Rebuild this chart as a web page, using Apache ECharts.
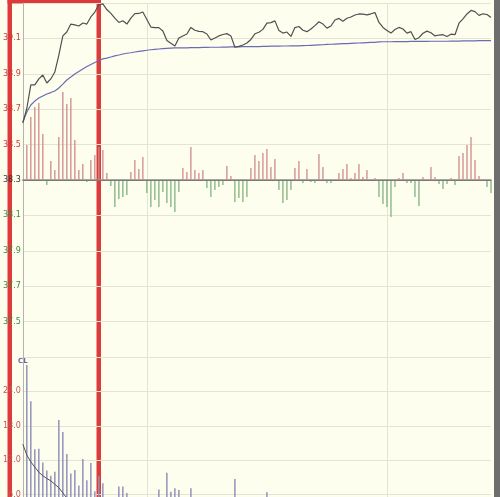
<!DOCTYPE html>
<html>
<head>
<meta charset="utf-8">
<script src="https://cdn.jsdelivr.net/npm/echarts@6/dist/echarts.min.js"></script>
<style>
html,body{margin:0;padding:0;background:#fefeef;}
#wrap{width:500px;height:497px;overflow:hidden;position:relative;}
#c{width:500px;height:530px;}
</style>
</head>
<body>
<div id="wrap"><div id="c"></div></div>
<script>
// ---- data ----
var prevClose = 38.3;
var priceTickLabels = ['37.5','37.7','37.9','38.1','38.3','38.5','38.7','38.9','39.1'];
var volTickLabels = ['6.0','12.0','18.0','24.0'];

var price = [38.622, 38.704, 38.837, 38.837, 38.871, 38.893, 38.848, 38.871, 38.910, 39.006,
 39.114, 39.136, 39.181, 39.176, 39.170, 39.187, 39.181, 39.221, 39.249, 39.290,
 39.295, 39.263, 39.241, 39.215, 39.190, 39.200, 39.181, 39.215, 39.240, 39.241,
 39.249, 39.207, 39.164, 39.161, 39.161, 39.142, 39.088, 39.072, 39.057, 39.102,
 39.114, 39.125, 39.162, 39.146, 39.140, 39.138, 39.125, 39.091, 39.102, 39.114,
 39.122, 39.127, 39.114, 39.050, 39.055, 39.063, 39.074, 39.094, 39.126, 39.135,
 39.151, 39.186, 39.189, 39.199, 39.145, 39.130, 39.136, 39.111, 39.161, 39.167,
 39.146, 39.138, 39.153, 39.172, 39.194, 39.181, 39.158, 39.170, 39.204, 39.213,
 39.197, 39.214, 39.221, 39.232, 39.238, 39.237, 39.233, 39.239, 39.246, 39.190,
 39.162, 39.145, 39.130, 39.150, 39.162, 39.153, 39.130, 39.138, 39.094, 39.104,
 39.129, 39.141, 39.132, 39.114, 39.119, 39.121, 39.111, 39.124, 39.121, 39.186,
 39.210, 39.238, 39.258, 39.251, 39.230, 39.239, 39.235, 39.218];

var avgPrice = [38.628, 38.684, 38.724, 38.746, 38.763, 38.775, 38.786, 38.794, 38.803, 38.820,
 38.842, 38.865, 38.882, 38.899, 38.913, 38.927, 38.941, 38.953, 38.964, 38.975,
 38.984, 38.989, 38.995, 39.001, 39.006, 39.012, 39.016, 39.019, 39.023, 39.027,
 39.030, 39.033, 39.036, 39.038, 39.040, 39.042, 39.044, 39.045, 39.046,
 39.046, 39.047, 39.047, 39.048, 39.048, 39.048, 39.049, 39.049, 39.050, 39.050,
 39.050, 39.051, 39.051, 39.052, 39.052, 39.052, 39.053, 39.053, 39.054, 39.054,
 39.054, 39.055, 39.055, 39.056, 39.056, 39.056, 39.057, 39.057, 39.058, 39.058,
 39.058, 39.059,
 39.060, 39.061, 39.062, 39.063, 39.064, 39.066, 39.067, 39.068,
 39.069, 39.070, 39.071, 39.072, 39.073, 39.074, 39.075, 39.076, 39.077, 39.078, 39.080, 39.081,
 39.081, 39.081, 39.082, 39.082, 39.082, 39.082, 39.083, 39.083, 39.083, 39.083, 39.083, 39.084,
 39.084, 39.084, 39.084, 39.084, 39.085,
 39.085, 39.085, 39.086, 39.086, 39.086, 39.086, 39.087, 39.087, 39.087, 39.087];

var strength = [0, 35, 63, 73, 77, 46, -5, 19, 10, 43,
 88, 76, 82, 40, 10, 16, -2, 20, 25, 33,
 30, 7, -6, -27, -19, -17, -15, 8, 20, 11,
 23, -13, -27, -20, -27, -12, -23, -27, -32, -12,
 12, 8, 33, 10, 7, 10, -8, -17, -10, -7,
 -5, 14, 4, -22, -18, -22, -17, 12, 25, 19,
 27, 31, 13, 21, -10, -23, -20, -10, 12, 19,
 -3, 11, -2, -3, 26, 13, -3, -3, 0, 7,
 11, 16, 2, 7, 16, 3, 10, 0, 2, -17,
 -24, -27, -37, -7, 2, 7, -3, -3, -17, -26,
 3, 0, 13, 3, -4, -9, -4, 2, -5, 24,
 27, 35, 43, 20, 4, 0, -7, -13];

var volume = [0, 286, 223, 139, 140, 116, 102, 93, 100, 190,
 169, 131, 97, 103, 76, 122, 85, 115, 66, 92,
 80, 45, 38, 50, 74, 74, 63, 42, 35, 48,
 30, 40, 52, 28, 69, 44, 98, 65, 71, 68,
 36, 30, 71, 25, 40, 33, 22, 45, 30, 26,
 38, 20, 32, 87, 41, 28, 35, 24, 30, 44,
 26, 64, 33, 21, 38, 29, 24, 40, 18, 27,
 32, 22, 19, 36, 28, 16, 25, 20, 14, 22,
 30, 26, 18, 24, 31, 15, 22, 17, 20, 34,
 38, 42, 47, 26, 15, 20, 14, 18, 30, 35,
 16, 12, 24, 15, 18, 20, 14, 12, 16, 33,
 36, 44, 50, 28, 14, 10, 18, 22];

var volumeMA = [148, 129, 117, 108, 99, 93, 88, 84, 78, 72,
 63, 54, 50, 48, 47, 46, 45, 44, 43, 42,
 42, 41, 41, 40, 40, 40, 39, 39, 39, 38,
 38, 38, 38, 37, 37, 37, 37, 37, 37, 37,
 37, 36, 36, 36, 36, 36, 35, 35, 35, 35,
 35, 35, 35, 35, 35, 35, 34, 34, 34, 34,
 34, 34, 34, 34, 34, 33, 33, 33, 33, 33,
 33, 33, 33, 33, 32, 32, 32, 32, 32, 32,
 32, 32, 32, 32, 32, 31, 31, 31, 31, 31,
 31, 31, 31, 31, 31, 31, 31, 31, 31, 31,
 31, 30, 30, 30, 30, 30, 30, 30, 30, 30,
 30, 30, 30, 30, 30, 30, 30, 30];

var categories = [];
for (var k = 0; k < price.length; k++) {
  var m = 9 * 60 + 30 + k * 2;
  if (m > 11 * 60 + 30) m += 90;
  var hh = Math.floor(m / 60), mm = m % 60;
  categories.push((hh < 10 ? '0' : '') + hh + ':' + (mm < 10 ? '0' : '') + mm);
}

// ---- chart ----
var gridColor = '#e4e4d4';
var splitIdx = function (i) { return i === 31 || i === 91; };
var chart = echarts.init(document.getElementById('c'), null, {renderer: 'canvas'});
var priceLabelMap = {};
priceTickLabels.forEach(function (t) { priceLabelMap[(parseFloat(t) - prevClose).toFixed(1)] = t; });
var volLabelMap = {60: volTickLabels[0], 120: volTickLabels[1], 180: volTickLabels[2], 240: volTickLabels[3]};

chart.setOption({
  animation: false,
  backgroundColor: '#fefeef',
  grid: [
    {left: 17, right: 9, top: 3, height: 354},
    {left: 17, right: 9, top: 357, height: 172}
  ],
  xAxis: [
    {type: 'category', gridIndex: 0, data: categories, boundaryGap: false,
     axisLine: {show: true, lineStyle: {color: '#8a8a8a', width: 1.5}},
     axisTick: {show: false}, axisLabel: {show: false},
     splitLine: {show: true, interval: splitIdx, lineStyle: {color: gridColor, width: 1}}},
    {type: 'category', gridIndex: 1, data: categories, boundaryGap: false,
     axisLine: {show: false}, axisTick: {show: false}, axisLabel: {show: false},
     splitLine: {show: true, interval: splitIdx, lineStyle: {color: gridColor, width: 1}}}
  ],
  yAxis: [
    {type: 'value', gridIndex: 0, min: -1.0, max: 1.0, interval: 0.2,
     axisLine: {show: true, lineStyle: {color: '#b4b4aa'}},
     axisTick: {show: false},
     splitLine: {show: true, lineStyle: {color: gridColor, width: 1}},
     axisLabel: {show: true, margin: 2, fontSize: 8, fontFamily: 'DejaVu Sans',
       showMinLabel: false, showMaxLabel: false,
       formatter: function (v) { return priceLabelMap[v.toFixed(1)] || ''; },
       color: function (v) {
         var x = parseFloat(v);
         if (Math.abs(x) < 1e-6) return '#333333';
         return x > 0 ? '#cc3b3b' : '#3f8a3f';
       }}},
    {type: 'value', gridIndex: 0, min: -177, max: 177, show: false},
    {type: 'value', gridIndex: 1, min: 0, max: 300, interval: 60,
     axisLine: {show: true, lineStyle: {color: '#b4b4aa'}},
     axisTick: {show: false},
     splitLine: {show: true, lineStyle: {color: gridColor, width: 1}},
     axisLabel: {show: true, margin: 2, fontSize: 8, fontFamily: 'DejaVu Sans', color: '#c05a5a',
       showMaxLabel: false, showMinLabel: false,
       formatter: function (v) { return volLabelMap[Math.round(v)] || ''; }}}
  ],
  series: [
    {type: 'bar', xAxisIndex: 0, yAxisIndex: 1, barWidth: 1.3,
     data: strength.map(function (v) {
       return {value: v, itemStyle: {color: v >= 0 ? '#cf8a8a' : '#7fb27f'}};
     }),
     markLine: {silent: true, symbol: ['none', 'none'], label: {show: false},
       lineStyle: {color: '#7a7a7a', type: 'solid', width: 1},
       data: [{yAxis: 0}]}},
    {type: 'line', xAxisIndex: 0, yAxisIndex: 0, showSymbol: false,
     data: avgPrice.map(function (p) { return +(p - prevClose).toFixed(4); }),
     lineStyle: {color: '#6b6bb2', width: 1.2}},
    {type: 'line', xAxisIndex: 0, yAxisIndex: 0, showSymbol: false,
     data: price.map(function (p) { return +(p - prevClose).toFixed(4); }),
     lineStyle: {color: '#505050', width: 1.2}},
    {type: 'bar', xAxisIndex: 1, yAxisIndex: 2, barWidth: 1.5,
     data: volume, itemStyle: {color: '#9292ba'}},
    {type: 'line', xAxisIndex: 1, yAxisIndex: 2, showSymbol: false,
     data: volumeMA, lineStyle: {color: '#505060', width: 1}}
  ],
  graphic: [
    {type: 'text', left: 18, top: 358, style: {text: 'CL', fill: '#6a6a9c', fontSize: 7, fontWeight: 'bold', fontFamily: 'DejaVu Sans'}},
    {type: 'rect', shape: {x: 494, y: 0, width: 6, height: 530}, style: {fill: '#6e6e6e'}},
    {type: 'rect', shape: {x: 7.5, y: 0, width: 4.5, height: 530}, style: {fill: '#dd3b3b'}},
    {type: 'rect', shape: {x: 96.5, y: 0, width: 4.5, height: 530}, style: {fill: '#dd3b3b'}},
    {type: 'rect', shape: {x: 7.5, y: 0, width: 93.5, height: 3.5}, style: {fill: '#dd3b3b'}}
  ]
});
</script>
</body>
</html>
